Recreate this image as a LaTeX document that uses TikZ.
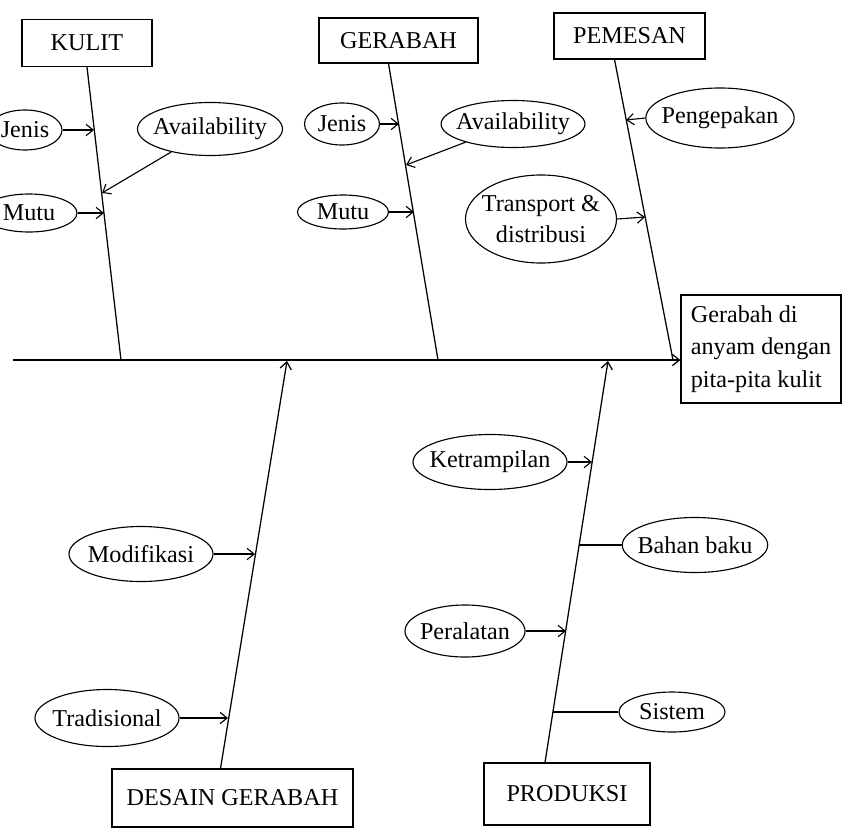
\documentclass[tikz,border=0pt]{standalone}
\usepackage{fontspec}
\setmainfont{Liberation Serif}
\usetikzlibrary{arrows.meta, shapes.geometric, calc}

\tikzset{
  bone/.style={line width=0.9pt},
  twig/.style={line width=0.8pt, -{Straight Barb[length=5pt,width=8pt]}},
  causebox/.style={draw, line width=0.8pt, inner sep=0pt, font=\fontsize{17.2}{23}\selectfont},
  subcause/.style={draw, ellipse, line width=0.8pt, inner xsep=-0.15cm, inner ysep=-0.05cm, align=center, font=\fontsize{17.2}{22}\selectfont}
}

\begin{document}
\begin{tikzpicture}[x=0.025cm, y=-0.025cm]
  \useasboundingbox (0,0) rectangle (845,829);

  % main cause boxes
  \node[causebox, minimum width=3.25cm, minimum height=1.175cm] (kulit) at (87,43) {KULIT};
  \node[causebox, minimum width=3.975cm, minimum height=1.125cm] (gerabah) at (398.5,40.5) {GERABAH};
  \node[causebox, minimum width=3.775cm, minimum height=1.15cm] (pemesan) at (629.5,36) {PEMESAN};
  \node[causebox, minimum width=6.025cm, minimum height=1.45cm] (desain) at (232.5,798) {DESAIN GERABAH};
  \node[causebox, minimum width=4.15cm, minimum height=1.55cm] (produksi) at (567,794) {PRODUKSI};
  % effect
  \node[causebox, align=left, minimum width=4cm, minimum height=2.7cm] (hasil) at (761,349) {Gerabah di\\anyam dengan\\pita-pita kulit};

  % spine
  \coordinate (tail) at (13,360);
  \draw[bone, -{Straight Barb[length=5pt,width=8pt]}] (tail) -- (tail -| hasil.west);

  % bones
  \coordinate (kulitend) at (121,360);
  \coordinate (gerabahend) at (438,360);
  \coordinate (pemesanend) at (673,360);
  \coordinate (desainend) at (287,361);
  \coordinate (produksiend) at (608,361);
  \draw[bone] (kulit.south) -- (kulitend);
  \draw[bone] ($(gerabah.south)+(-10,0)$) -- (gerabahend);
  \draw[bone] ($(pemesan.south)+(-15,0)$) -- (pemesanend);
  \draw[bone, -{Straight Barb[length=5pt,width=8pt]}] ($(desain.north)+(-12,0)$) -- (desainend);
  \draw[bone, -{Straight Barb[length=5pt,width=8pt]}] ($(produksi.north)+(-22,0)$) -- (produksiend);

  % KULIT
  \node[subcause, minimum width=1.85cm, minimum height=1cm] (kjenis) at (25,130) {Jenis};
  \node[subcause, minimum width=2.4cm, minimum height=0.95cm] (kmutu) at (29,213) {Mutu};
  \node[subcause, minimum width=3.625cm, minimum height=1.325cm] (kavail) at (210,129) {Availability};
  \coordinate (kb1) at (94,130);
  \coordinate (kb2) at (104,213);
  \coordinate (kb3) at (102,193);
  \draw[twig] (kjenis) -- (kb1);
  \draw[twig] (kmutu) -- (kb2);
  \draw[twig] (kavail) -- (kb3);

  % GERABAH
  \node[subcause, minimum width=1.875cm, minimum height=1.05cm] (gjenis) at (342,124) {Jenis};
  \node[subcause, minimum width=2.275cm, minimum height=0.85cm] (gmutu) at (343,212) {Mutu};
  \node[subcause, minimum width=3.575cm, minimum height=1.175cm] (gavail) at (513,124) {Availability};
  \coordinate (gb1) at (399,124);
  \coordinate (gb2) at (414,212);
  \coordinate (gb3) at (406,165);
  \draw[twig] (gjenis) -- (gb1);
  \draw[twig] (gmutu) -- (gb2);
  \draw[twig] (gavail) -- (gb3);

  % PEMESAN
  \node[subcause, minimum width=3.575cm, minimum height=1.5cm] (pengepakan) at (720,118) {Pengepakan};
  \node[subcause, minimum width=3.775cm, minimum height=2.2cm] (transport) at (541,219) {Transport \&\\distribusi};
  \coordinate (pb1) at (626,120);
  \coordinate (pb2) at (645,217);
  \draw[twig] (pengepakan.west) -- (pb1);
  \draw[twig] (transport.east) -- (pb2);

  % DESAIN GERABAH
  \node[subcause, minimum width=3.6cm, minimum height=1.375cm] (modifikasi) at (141,554) {Modifikasi};
  \node[subcause, minimum width=3.6cm, minimum height=1.425cm] (tradisional) at (107,718) {Tradisional};
  \coordinate (db1) at (255,554);
  \coordinate (db2) at (228,718);
  \draw[twig] (modifikasi) -- (db1);
  \draw[twig] (tradisional) -- (db2);

  % PRODUKSI
  \node[subcause, minimum width=3.85cm, minimum height=1.375cm] (ketrampilan) at (490,462) {Ketrampilan};
  \node[subcause, minimum width=3.6cm, minimum height=1.375cm] (bahanbaku) at (695,545) {Bahan baku};
  \node[subcause, minimum width=3cm, minimum height=1.3cm] (peralatan) at (465,631) {Peralatan};
  \node[subcause, minimum width=2.65cm, minimum height=1cm] (sistem) at (672,712) {Sistem};
  \coordinate (rb1) at (592,462);
  \coordinate (rb2) at (579,545);
  \coordinate (rb3) at (566,631);
  \coordinate (rb4) at (553,712);
  \draw[twig] (ketrampilan) -- (rb1);
  \draw[bone] (bahanbaku) -- (rb2);
  \draw[twig] (peralatan) -- (rb3);
  \draw[bone] (sistem) -- (rb4);
\end{tikzpicture}
\end{document}
